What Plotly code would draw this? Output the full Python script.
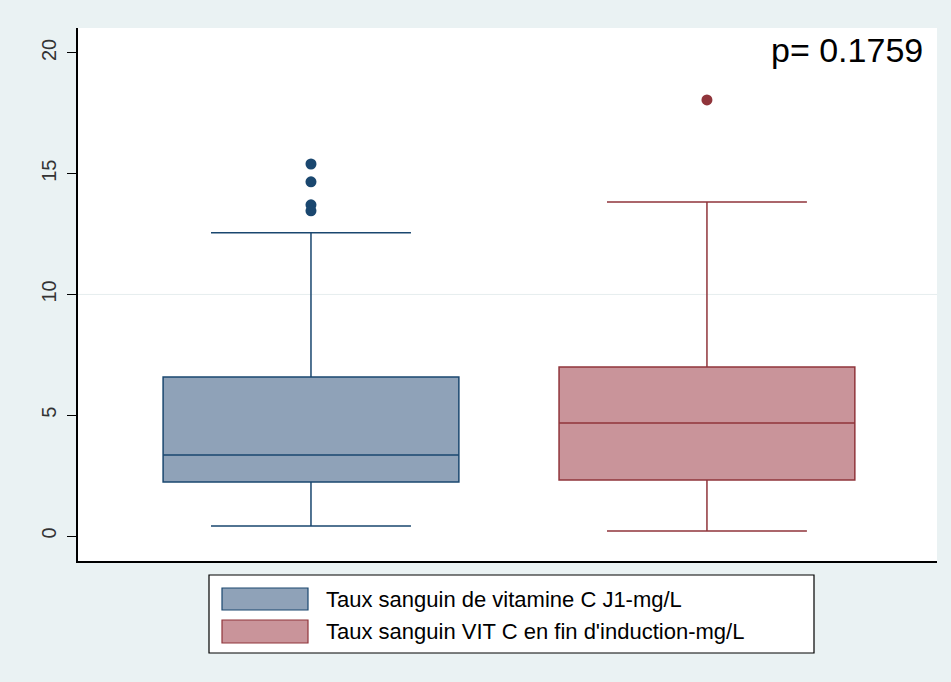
import plotly.graph_objects as go

# Box statistics (mg/L)
series_names = [
    "Taux sanguin de vitamine C J1-mg/L",
    "Taux sanguin VIT C en fin d'induction-mg/L",
]
positions = [1, 2]
q1_vals = [2.24, 2.32]
median_vals = [3.35, 4.68]
q3_vals = [6.58, 7.00]
lower_whiskers = [0.41, 0.21]
upper_whiskers = [12.55, 13.83]
outliers_j1 = [15.40, 14.66, 13.71, 13.46]
outliers_fin = [18.05]
p_label = "p= 0.1759"
y_ticks = [0, 5, 10, 15, 20]

line_colors = ["#1A476F", "#90353B"]
fill_colors = ["#8FA2B8", "#C9949A"]
outlier_sets = [outliers_j1, outliers_fin]

fig = go.Figure()

for i in range(2):
    fig.add_trace(go.Box(
        x=[positions[i]],
        q1=[q1_vals[i]],
        median=[median_vals[i]],
        q3=[q3_vals[i]],
        lowerfence=[lower_whiskers[i]],
        upperfence=[upper_whiskers[i]],
        name=series_names[i],
        width=0.747,
        whiskerwidth=0.676,
        fillcolor=fill_colors[i],
        line=dict(color=line_colors[i], width=1.5),
        boxpoints=False,
        showlegend=False,
        hoverinfo="skip",
    ))
    fig.add_trace(go.Scatter(
        x=[positions[i]] * len(outlier_sets[i]),
        y=outlier_sets[i],
        mode="markers",
        marker=dict(color=line_colors[i], size=11),
        showlegend=False,
        hoverinfo="skip",
    ))

# Hand-built legend below the plot area
px_l, px_r, px_t, px_b = 78, 937, 28, 561


def xp(px):
    return (px - px_l) / (px_r - px_l)


def yp(py):
    return (px_b - py) / (px_b - px_t)


shapes = [
    # light grid line at 10
    dict(type="line", xref="paper", yref="y", x0=0, x1=1, y0=10, y1=10,
         line=dict(color="#E6EDEF", width=1), layer="below"),
    # legend frame
    dict(type="rect", xref="paper", yref="paper",
         x0=xp(209), x1=xp(814), y0=yp(575), y1=yp(653),
         line=dict(color="black", width=1.2), fillcolor="white"),
]
annotations = [
    dict(text=p_label, xref="paper", yref="paper", x=xp(925), y=yp(50),
         xanchor="right", yanchor="middle", showarrow=False,
         font=dict(size=34, color="black", family="Liberation Sans, Arial")),
]
swatch_rows = [(588, 610), (620, 643)]
for i, (top, bot) in enumerate(swatch_rows):
    shapes.append(dict(type="rect", xref="paper", yref="paper",
                       x0=xp(222), x1=xp(308), y0=yp(top), y1=yp(bot),
                       line=dict(color=line_colors[i], width=1.2),
                       fillcolor=fill_colors[i]))
    annotations.append(dict(text=series_names[i], xref="paper", yref="paper",
                            x=xp(324), y=yp((top + bot) / 2),
                            xanchor="left", yanchor="middle", showarrow=False,
                            font=dict(size=22, color="black",
                                      family="Liberation Sans, Arial")))

fig.update_layout(
    width=951, height=682,
    margin=dict(l=px_l, r=951 - px_r, t=px_t, b=682 - px_b, pad=0),
    paper_bgcolor="#EAF2F3",
    plot_bgcolor="white",
    font=dict(family="Liberation Sans, Arial", color="#222222"),
    shapes=shapes,
    annotations=annotations,
    xaxis=dict(range=[0.4116, 2.581], showticklabels=False, ticks="",
               showgrid=False, zeroline=False, showline=True,
               linecolor="black", linewidth=1.5),
    yaxis=dict(range=[-1.035, 21.03], tickvals=y_ticks, tickangle=-90,
               ticks="outside", ticklen=9, tickcolor="black",
               ticklabelstandoff=3,
               tickfont=dict(size=20, color="#333333"),
               showgrid=False, zeroline=False, showline=True,
               linecolor="black", linewidth=1.5),
)

fig.write_html("out.html")
